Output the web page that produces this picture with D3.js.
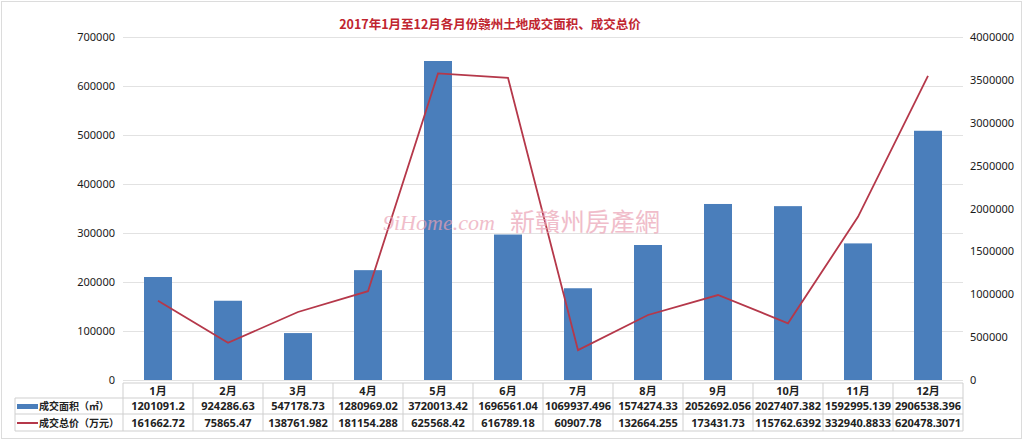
<!DOCTYPE html>
<html>
<head>
<meta charset="utf-8">
<script src="https://cdn.jsdelivr.net/npm/d3@7"></script>
<style>
  body { margin: 0; background: #fff; }
  svg text { font-family: "Noto Sans", "Noto Sans CJK SC", sans-serif; }
</style>
</head>
<body>
<svg width="1024" height="442"></svg>
<script>
// data
var months = ["1月","2月","3月","4月","5月","6月","7月","8月","9月","10月","11月","12月"];
var area = [1201091.2, 924286.63, 547178.73, 1280969.02, 3720013.42, 1696561.04,
	1069937.496, 1574274.33, 2052692.056, 2027407.382, 1592995.139, 2906538.396];
var price = [161662.72, 75865.47, 138761.982, 181154.288, 625568.42, 616789.18,
	60907.78, 132664.255, 173431.73, 115762.6392, 332940.8833, 620478.3071];
var leftTicks = [0,100000,200000,300000,400000,500000,600000,700000];
var rightTicks = [0,500000,1000000,1500000,2000000,2500000,3000000,3500000,4000000];
var seriesNames = ["成交面积（㎡）", "成交总价（万元）"];
var title = "2017年1月至12月各月份赣州土地成交面积、成交总价";

var svg = d3.select("svg"),
	plotLeft = 123, plotRight = 963,
	plotTop = 37, plotBottom = 380,
	blue = "#4a7ebb", red = "#b5384a";

// outer frame
svg.append("rect")
	.attr("x", 1.5).attr("y", 1.5)
	.attr("width", 1020).attr("height", 437)
	.attr("fill", "none").attr("stroke", "#dcdcdc");

var x = d3.scaleBand()
	.domain(months)
	.range([plotLeft, plotRight])
	.paddingInner(0.6)
	.paddingOuter(0.3);

var yL = d3.scaleLinear().domain([0, 700000]).range([plotBottom, plotTop]);
var yR = d3.scaleLinear().domain([0, 4000000]).range([plotBottom, plotTop]);

// left axis + grid
var gL = svg.append("g")
	.attr("transform", "translate(" + plotLeft + ",0)")
	.call(d3.axisLeft(yL).tickValues(leftTicks).tickFormat(d3.format("d"))
		.tickSize(-(plotRight - plotLeft)).tickPadding(8));
gL.select(".domain").remove();
gL.selectAll("line").attr("stroke", "#e2e2e2");
gL.selectAll("text").attr("font-size", 11).attr("fill", "#1a1a1a");

var gR = svg.append("g")
	.attr("transform", "translate(" + plotRight + ",0)")
	.call(d3.axisRight(yR).tickValues(rightTicks).tickFormat(d3.format("d"))
		.tickSize(0).tickPadding(7));
gR.select(".domain").remove();
gR.selectAll("text").attr("font-size", 11).attr("fill", "#1a1a1a");

// bars (area, right axis)
svg.append("g")
	.selectAll("rect")
	.data(area)
	.enter().append("rect")
	.attr("x", function(d, i) { return x(months[i]); })
	.attr("y", function(d) { return yR(d); })
	.attr("width", x.bandwidth())
	.attr("height", function(d) { return yR(0) - yR(d); })
	.attr("fill", blue);

// line (price, left axis)
var line = d3.line()
	.x(function(d, i) { return x(months[i]) + x.bandwidth() / 2; })
	.y(function(d) { return yL(d); });

svg.append("path")
	.datum(price)
	.attr("d", line)
	.attr("fill", "none")
	.attr("stroke", red)
	.attr("stroke-width", 1.8);

// watermark, drawn over the marks
var wm = svg.append("g").attr("opacity", 0.7);
wm.append("text")
	.attr("x", 383).attr("y", 230)
	.style("font-family", "'Liberation Serif', serif")
	.attr("font-style", "italic")
	.attr("font-size", 22)
	.attr("fill", "#eba2b4")
	.text("9iHome.com");
wm.append("text")
	.attr("x", 510).attr("y", 231)
	.style("font-family", "'Noto Sans CJK TC', sans-serif")
	.attr("font-size", 25)
	.attr("fill", "#eba2b4")
	.text("新贛州房產網");

// title
svg.append("text")
	.attr("x", 490).attr("y", 29)
	.attr("text-anchor", "middle")
	.style("font-family", "'Noto Sans CJK SC', sans-serif")
	.attr("font-size", 12.5)
	.attr("font-weight", "bold")
	.attr("fill", "#c0252f")
	.text(title);

// data table
var step = x.step(),
	rows = [383, 398, 414, 431],
	tLeft = 15,
	grid = "#cfcfcf";
var table = svg.append("g");

table.append("line")
	.attr("x1", plotLeft).attr("x2", plotRight)
	.attr("y1", rows[0]).attr("y2", rows[0])
	.attr("stroke", grid);
rows.slice(1).forEach(function(r) {
	table.append("line")
		.attr("x1", tLeft).attr("x2", plotRight)
		.attr("y1", r).attr("y2", r)
		.attr("stroke", grid);
});
table.append("line")
	.attr("x1", tLeft).attr("x2", tLeft)
	.attr("y1", rows[1]).attr("y2", rows[3])
	.attr("stroke", grid);
d3.range(months.length + 1).forEach(function(i) {
	table.append("line")
		.attr("x1", plotLeft + i * step).attr("x2", plotLeft + i * step)
		.attr("y1", rows[0]).attr("y2", rows[3])
		.attr("stroke", grid);
});

table.selectAll(".mh")
	.data(months)
	.enter().append("text")
	.attr("x", function(d) { return x(d) + x.bandwidth() / 2; })
	.attr("y", 395)
	.attr("text-anchor", "middle")
	.attr("font-size", 11)
	.attr("font-weight", "bold")
	.attr("fill", "#222")
	.text(function(d) { return d; });

[area, price].forEach(function(vals, r) {
	table.selectAll(".r" + r)
		.data(vals)
		.enter().append("text")
		.attr("x", function(d, i) { return x(months[i]) + x.bandwidth() / 2; })
		.attr("y", 410 + r * 16.5)
		.attr("text-anchor", "middle")
		.attr("font-size", 11)
		.attr("font-weight", "bold")
		.attr("fill", "#222")
		.text(function(d) { return String(d); });
});

// legend keys in table
table.append("rect")
	.attr("x", 17).attr("y", 404)
	.attr("width", 21).attr("height", 5)
	.attr("fill", blue);
table.append("line")
	.attr("x1", 17).attr("x2", 38)
	.attr("y1", 423).attr("y2", 423)
	.attr("stroke", red).attr("stroke-width", 2);
seriesNames.forEach(function(s, i) {
	table.append("text")
		.attr("x", 39).attr("y", 410 + i * 16.5)
		.style("font-family", "'Noto Sans CJK SC', sans-serif")
		.attr("font-size", 10)
		.attr("font-weight", "bold")
		.attr("fill", "#222")
		.text(s);
});
</script>
</body>
</html>
